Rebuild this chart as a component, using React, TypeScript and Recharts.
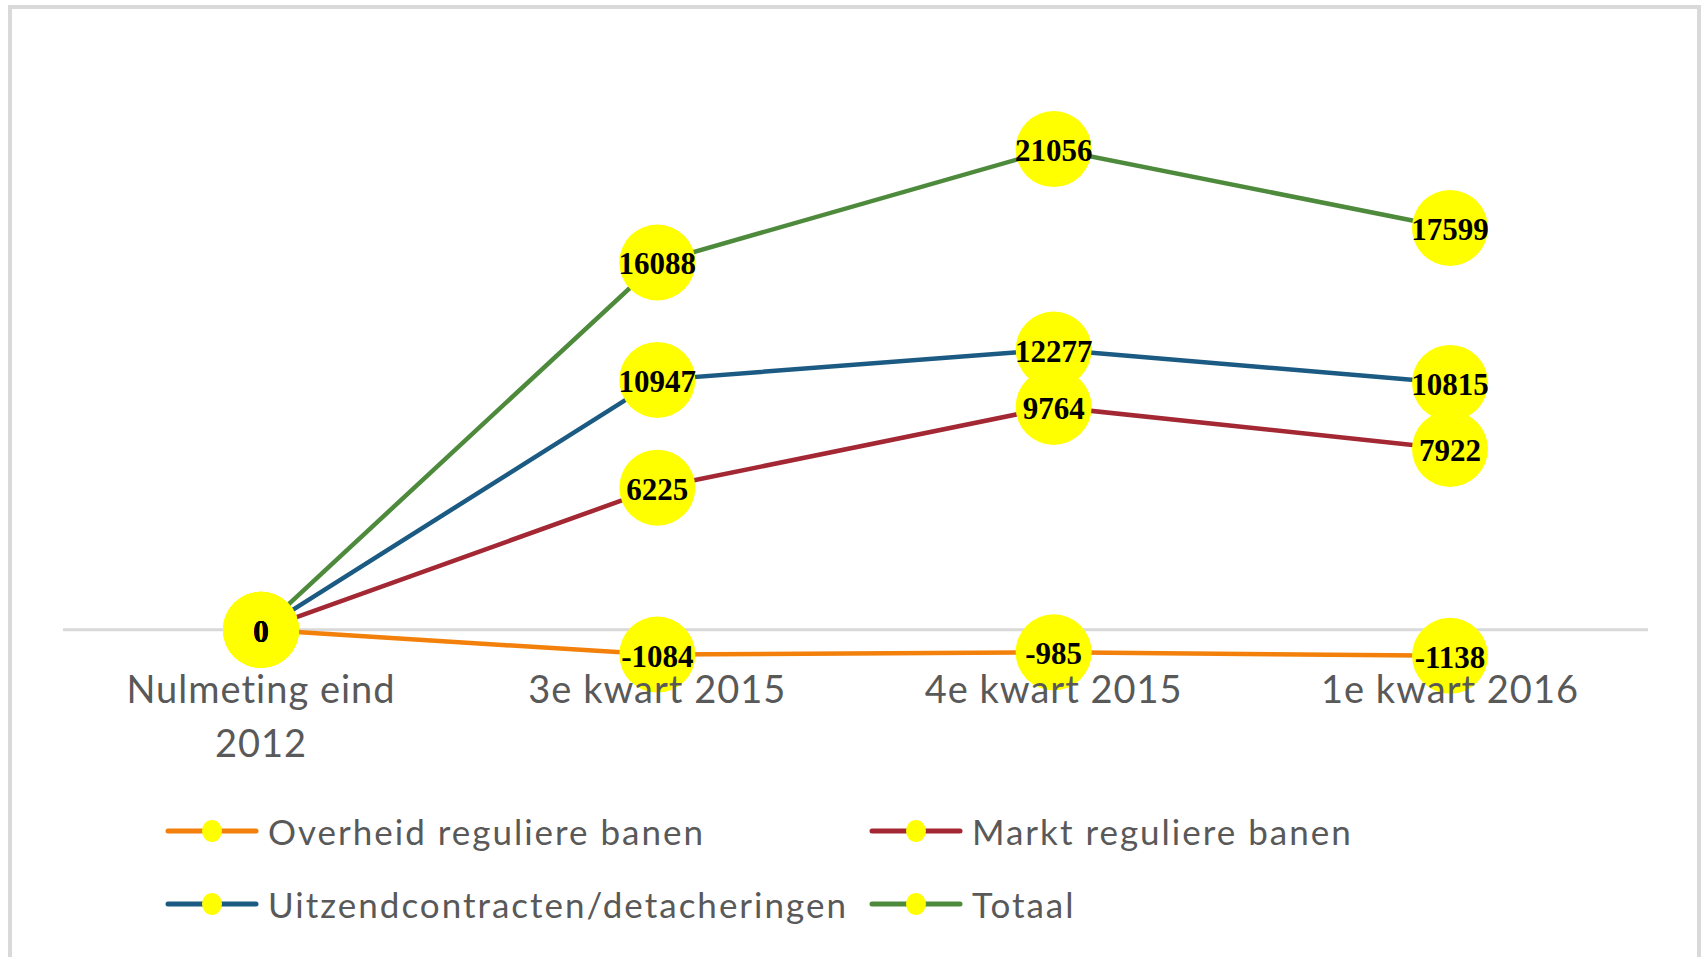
import { CartesianGrid, LabelList, Line, LineChart, XAxis, YAxis } from "recharts";

// categorieën en reeksen
const categories = ["Nulmeting eind 2012", "3e kwart 2015", "4e kwart 2015", "1e kwart 2016"];
const overheid = [0, -1084, -985, -1138];
const markt = [0, 6225, 9764, 7922];
const uitzend = [0, 10947, 12277, 10815];
const totaal = [0, 16088, 21056, 17599];

const yDomain = [-5000, 25000];
const yTicks = [0];

const series = [
  { key: "overheid", name: "Overheid reguliere banen", color: "#F2800A", values: overheid },
  { key: "markt", name: "Markt reguliere banen", color: "#A32833", values: markt },
  { key: "uitzend", name: "Uitzendcontracten/detacheringen", color: "#1B5A82", values: uitzend },
  { key: "totaal", name: "Totaal", color: "#4E8A3C", values: totaal },
];

const data = categories.map((category, i) => {
  const row: Record<string, string | number> = { category };
  series.forEach((s) => (row[s.key] = s.values[i]));
  return row;
});

const TEXT_FONT = "Lato, 'Open Sans', sans-serif";
const LABEL_FONT = "'Liberation Serif', 'DejaVu Serif', serif";

// woorden over regels verdelen, zoals Excel de as-labels afbreekt
function wrap(text: string, max = 14) {
  const lines: string[] = [];
  let cur = "";
  for (const w of text.split(" ")) {
    if (cur && (cur + " " + w).length > max) {
      lines.push(cur);
      cur = w;
    } else {
      cur = cur ? cur + " " + w : w;
    }
  }
  if (cur) lines.push(cur);
  return lines;
}

function CategoryTick(props: any) {
  const { x, y, payload } = props;
  const lines = wrap(String(payload.value));
  return (
    <text
      x={x}
      y={y - 41}
      textAnchor="middle"
      fontFamily={TEXT_FONT}
      fontSize={38}
      letterSpacing={1}
      fill="#595959"
    >
      {lines.map((l, i) => (
        <tspan key={i} x={x} dy={i === 0 ? 0 : 54}>
          {l}
        </tspan>
      ))}
    </text>
  );
}

function ValueLabel(props: any) {
  const { x, y, value } = props;
  return (
    <text
      x={x}
      y={y + 12}
      textAnchor="middle"
      fontFamily={LABEL_FONT}
      fontWeight="bold"
      fontSize={31}
      fill="#000"
    >
      {value}
    </text>
  );
}

function LegendIcon({ color }: { color: string }) {
  return (
    <svg width={94} height={30} style={{ display: "block" }}>
      <line x1={3} y1={15} x2={91} y2={15} stroke={color} strokeWidth={5} strokeLinecap="round" />
      <ellipse cx={47} cy={15} rx={10} ry={11} fill="#FFFF00" />
    </svg>
  );
}

export default function App() {
  const legendPos = [
    { left: 165, top: 831 },
    { left: 869, top: 831 },
    { left: 165, top: 904 },
    { left: 869, top: 904 },
  ];
  return (
    <div
      style={{
        position: "fixed",
        left: 0,
        top: 0,
        width: 1703,
        height: 957,
        background: "#fff",
        overflow: "hidden",
      }}
    >
      <div
        style={{
          position: "absolute",
          left: 8,
          top: 5,
          width: 1693,
          height: 1100,
          border: "4px solid #D9D9D9",
          boxSizing: "border-box",
        }}
      />
      <div style={{ position: "absolute", left: 0, top: 0 }}>
        <LineChart
          width={1703}
          height={957}
          data={data}
          margin={{ top: 59, right: 55, left: 63, bottom: 153 }}
        >
          <CartesianGrid
            vertical={false}
            horizontalValues={yTicks}
            stroke="#D9D9D9"
            strokeWidth={3}
          />
          <XAxis
            dataKey="category"
            axisLine={false}
            tickLine={false}
            tickSize={0}
            tickMargin={0}
            height={60}
            interval={0}
            padding={{ left: 198, right: 198 }}
            tick={<CategoryTick />}
          />
          <YAxis hide width={0} domain={yDomain} ticks={yTicks} type="number" />
          {series.map((s) => (
            <Line
              key={s.key}
              dataKey={s.key}
              stroke={s.color}
              strokeWidth={4.5}
              dot={false}
              activeDot={false}
              isAnimationActive={false}
            />
          ))}
          {series.map((s) => (
            <Line
              key={s.key + "-dots"}
              dataKey={s.key}
              stroke="none"
              dot={{ r: 38, fill: "#FFFF00", stroke: "none" }}
              activeDot={false}
              legendType="none"
              isAnimationActive={false}
            >
              <LabelList dataKey={s.key} content={<ValueLabel />} />
            </Line>
          ))}
        </LineChart>
      </div>
      {series.map((s, i) => (
        <div
          key={s.key}
          style={{
            position: "absolute",
            left: legendPos[i].left,
            top: legendPos[i].top - 22,
            height: 44,
            display: "flex",
            alignItems: "center",
            gap: 9,
            fontFamily: TEXT_FONT,
            fontSize: 35,
            letterSpacing: 2,
            color: "#595959",
            whiteSpace: "nowrap",
          }}
        >
          <LegendIcon color={s.color} />
          <span>{s.name}</span>
        </div>
      ))}
    </div>
  );
}
